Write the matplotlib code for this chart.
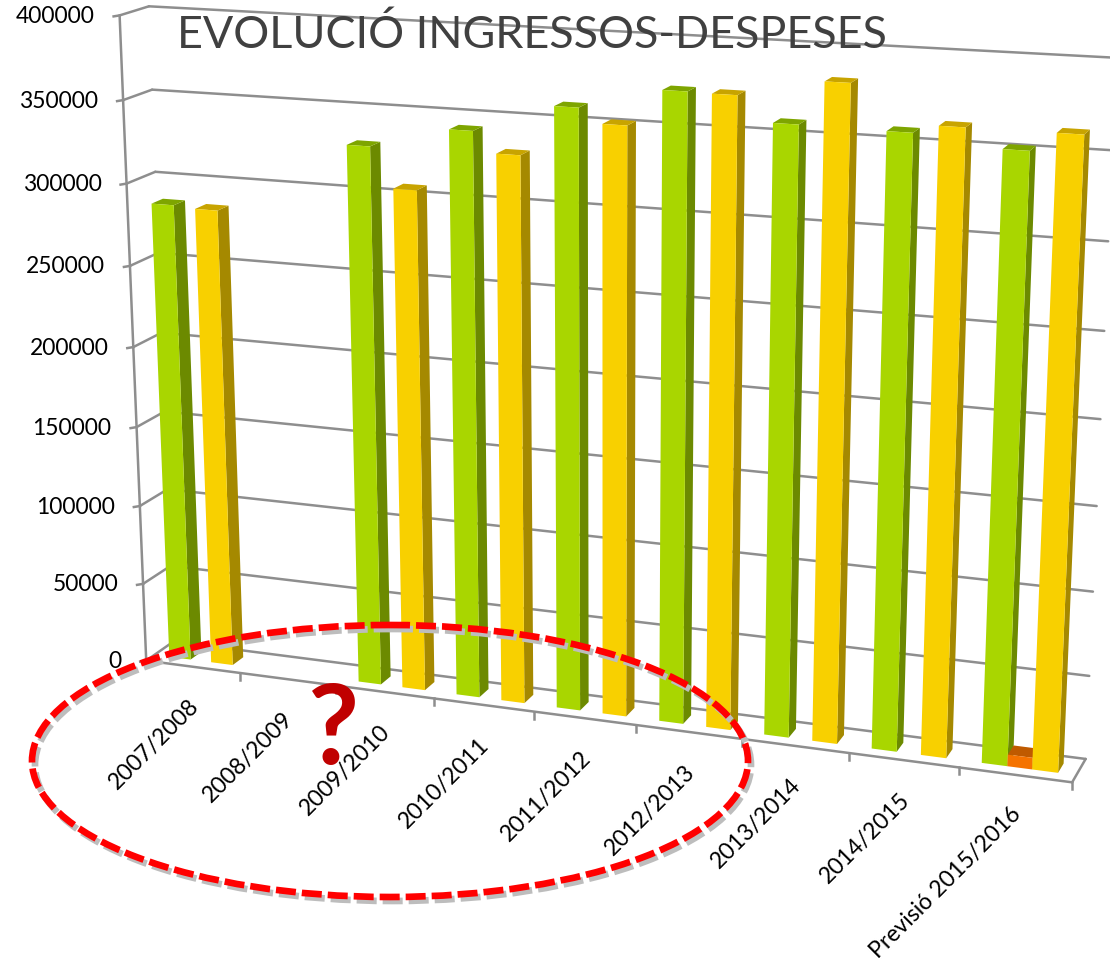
import numpy as np
import matplotlib
matplotlib.use("Agg")
import matplotlib.pyplot as plt
from matplotlib.patches import Polygon, Ellipse

categories = ["2007/2008", "2008/2009", "2009/2010", "2010/2011", "2011/2012",
              "2012/2013", "2013/2014", "2014/2015", "Previsió 2015/2016"]
ingressos = [286400, 0, 330000, 343000, 360200, 373000, 358400, 357800, 352000]
altres = [0, 0, 0, 0, 0, 0, 0, 0, 7000]
despeses = [285200, 0, 306200, 330800, 351800, 372600, 383000, 362500, 362600]
yticks = [0, 50000, 100000, 150000, 200000, 250000, 300000, 350000, 400000]
title = "EVOLUCIÓ INGRESSOS-DESPESES"

FONT = ["Lato", "DejaVu Sans"]
VMAX = 400000.0

# camera calibration: (category pos, value, depth) -> picture pixel
cal_world = [(0, 0, 0), (9, 0, 0), (0, 0, 1), (9, 0, 1), (0, 400000, 0), (0, 400000, 1),
             (9, 400000, 1), (0, 300000, 0), (0, 300000, 1), (9, 200000, 1), (9, 100000, 1),
             (3, 0, 0), (4, 0, 0), (7, 0, 0)]
cal_px = [(148, 658), (1072, 781), (172, 642), (1086, 758), (119, 15), (150, 7),
          (1116, 58), (126, 183), (155, 172), (1101, 419), (1093, 591),
          (434, 700), (534, 713), (848, 755)]
rows = []
for (u, v, w), (x, y) in zip(cal_world, cal_px):
    X = [u, v / VMAX * 9, w, 1]
    rows.append(X + [0, 0, 0, 0] + [-x * c for c in X])
    rows.append([0, 0, 0, 0] + X + [-y * c for c in X])
P = np.linalg.svd(np.array(rows, float))[2][-1].reshape(3, 4)


def proj(u, v, w):
    h = P @ np.array([u, v / VMAX * 9, w, 1.0])
    return h[0] / h[2], h[1] / h[2]


fig = plt.figure(figsize=(11.10, 9.64), dpi=100)
ax = fig.add_axes([0, 0, 1, 1])
ax.set_xlim(0, 1110)
ax.set_ylim(964, 0)
ax.axis("off")

GRID = "#8E8E8E"
LW = 1.8
n = len(categories)


def seg(a, b, lw=LW, z=1):
    pa, pb = proj(*a), proj(*b)
    ax.plot([pa[0], pb[0]], [pa[1], pb[1]], color=GRID, lw=lw, zorder=z, solid_capstyle="round")


for t in yticks:
    seg((0, t, 0), (0, t, 1))
    seg((0, t, 1), (n, t, 1))
    x0, y0 = proj(0, t, 0)
    ax.plot([x0 - 6, x0], [y0 + 1, y0], color=GRID, lw=LW, zorder=1)
    ax.text(x0 - 25, y0 + 1, str(t), ha="right", va="center", fontsize=16.5,
            family=FONT, color="black", zorder=6)
seg((0, 0, 0), (0, VMAX, 0))
seg((0, 0, 0), (n, 0, 0))
seg((n, 0, 0), (n, 0, 1))
for i in range(1, n + 1):
    x0, y0 = proj(i, 0, 0)
    ax.plot([x0, x0], [y0, y0 + 7], color=GRID, lw=LW, zorder=1)
for i, c in enumerate(categories):
    x0, y0 = proj(i + 0.5, 0, 0)
    ax.text(x0 - 5, y0 + 29, c, rotation=45, rotation_mode="anchor", ha="right", va="top",
            fontsize=16.6, family=FONT, color="black", zorder=6)

W0, W1 = 0.30, 0.70


def bar(i, start, width, value, front, side, top, z):
    if value <= 0:
        return
    u0, u1 = i + start, i + start + width
    ax.add_patch(Polygon([proj(u1, 0, W0), proj(u1, 0, W1), proj(u1, value, W1), proj(u1, value, W0)],
                         closed=True, fc=side, ec="none", zorder=z))
    ax.add_patch(Polygon([proj(u0, value, W0), proj(u1, value, W0), proj(u1, value, W1), proj(u0, value, W1)],
                         closed=True, fc=top, ec="none", zorder=z))
    ax.add_patch(Polygon([proj(u0, 0, W0), proj(u1, 0, W0), proj(u1, value, W0), proj(u0, value, W0)],
                         closed=True, fc=front, ec="none", zorder=z))


for i in range(n):
    bar(i, 0.16, 0.23, ingressos[i], "#A9D600", "#6C8A00", "#7EA500", 2 + i * 0.01)
    bar(i, 0.39, 0.22, altres[i], "#F57300", "#BF5A00", "#BF5A00", 2 + i * 0.01 + 0.001)
    bar(i, 0.61, 0.23, despeses[i], "#F8D000", "#A58900", "#C8A400", 2 + i * 0.01 + 0.002)

ax.text(532, 35, title, ha="center", va="center", fontsize=32.3, family=FONT, color="#404040", zorder=7)

dash = (0, (3.0, 0.9))
ax.add_patch(Ellipse((393, 765), 716, 272, fc="none", ec="#BDBDBD", lw=4.8, ls=dash, zorder=7))
ax.add_patch(Ellipse((390, 761), 716, 272, fc="none", ec="#FF0000", lw=4.8, ls=dash, zorder=8))
ax.text(334, 732, "?", ha="center", va="center", fontsize=80, fontweight="bold", family=FONT,
        color="#C00000", zorder=9)

fig.savefig("out.png", dpi=100)
